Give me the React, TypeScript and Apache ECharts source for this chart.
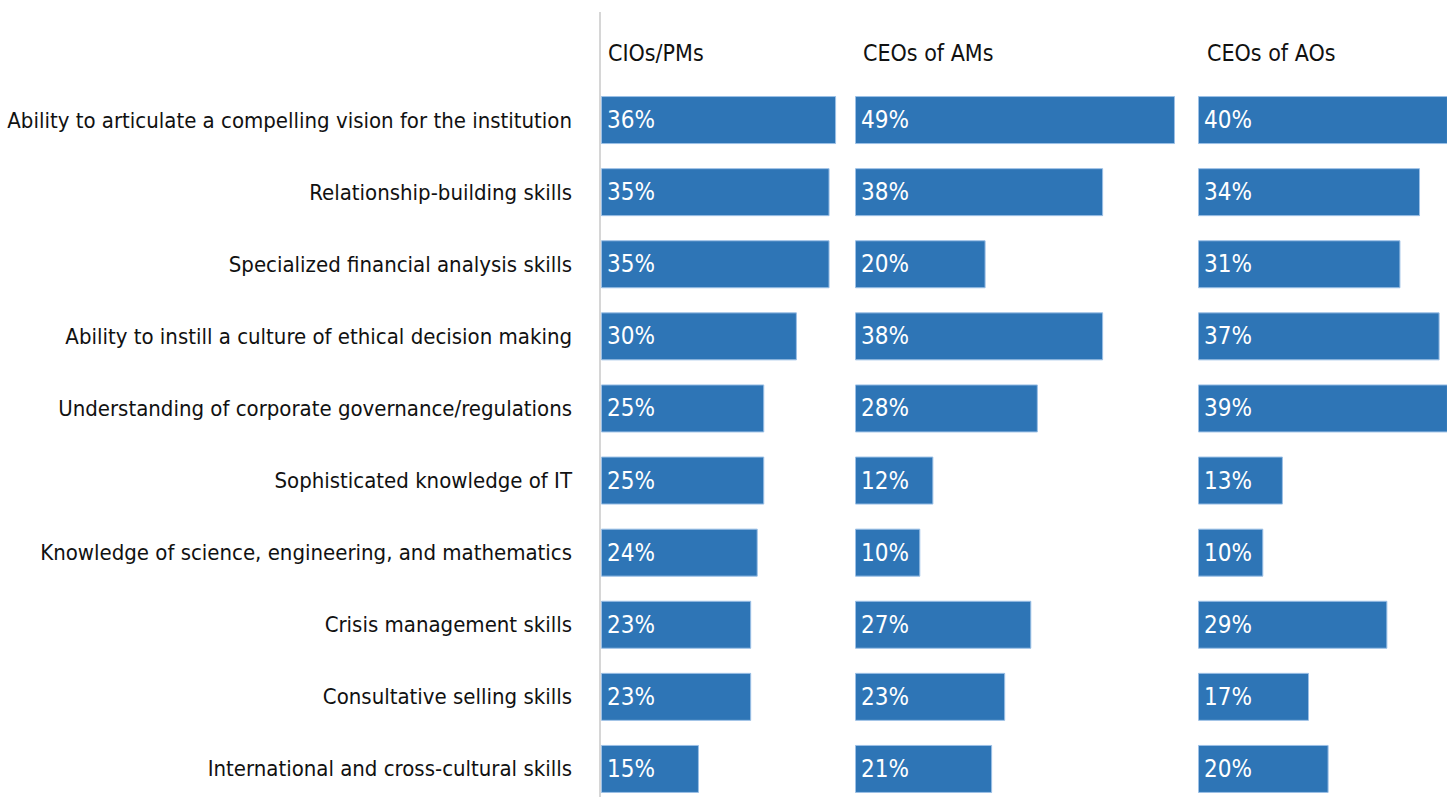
import React, { useEffect, useRef } from "react";
import * as echarts from "echarts";

const categories = [
  "Ability to articulate a compelling vision for the institution",
  "Relationship-building skills",
  "Specialized financial analysis skills",
  "Ability to instill a culture of ethical decision making",
  "Understanding of corporate governance/regulations",
  "Sophisticated knowledge of IT",
  "Knowledge of science, engineering, and mathematics",
  "Crisis management skills",
  "Consultative selling skills",
  "International and cross-cultural skills",
];

const groups = ["CIOs/PMs", "CEOs of AMs", "CEOs of AOs"];

const cioPm = [36, 35, 35, 30, 25, 25, 24, 23, 23, 15];
const ceoAm = [49, 38, 20, 38, 28, 12, 10, 27, 23, 21];
const ceoAo = [40, 34, 31, 37, 39, 13, 10, 29, 17, 20];

const seriesValues = [cioPm, ceoAm, ceoAo];

const FONT = "'Liberation Sans Narrow', 'DejaVu Sans Condensed', 'Noto Sans', sans-serif";
const BAR = "#2E75B6";

export default function App() {
  const ref = useRef<HTMLDivElement>(null);
  useEffect(() => {
    if (!ref.current) return;
    const chart = echarts.init(ref.current, undefined, { renderer: "svg" });
    const scale = 6.53;
    const panels = [
      { left: 601, max: 38 },
      { left: 855, max: 50 },
      { left: 1198, max: 38.2 },
    ];
    const top = 84;
    const height = 721;
    chart.setOption({
      animation: false,
      textStyle: { fontFamily: FONT },
      title: groups.map((g, i) => ({
        text: g,
        left: [603, 858, 1202][i],
        top: 36,
        textStyle: { fontFamily: FONT, fontSize: 23, fontWeight: "normal", color: "#111" },
      })),
      grid: panels.map((p) => ({
        left: p.left,
        top,
        width: p.max * scale,
        height,
        containLabel: false,
        outerBoundsMode: "none",
      })),
      xAxis: panels.map((p, i) => ({
        type: "value",
        gridIndex: i,
        min: 0,
        max: p.max,
        show: false,
        splitLine: { show: false },
      })),
      yAxis: panels.map((p, i) => ({
        type: "category",
        gridIndex: i,
        data: categories,
        inverse: true,
        axisLine: { show: false },
        axisTick: { show: false },
        axisLabel: {
          show: i === 0,
          margin: 29,
          fontSize: 22,
          color: "#111",
          fontFamily: FONT,
        },
      })),
      series: seriesValues.map((vals, i) => ({
        type: "bar",
        name: groups[i],
        xAxisIndex: i,
        yAxisIndex: i,
        data: vals,
        barWidth: 48,
        clip: true,
        itemStyle: { color: BAR, borderColor: "#9cc0e6", borderWidth: 1 },
        label: {
          show: true,
          position: "insideLeft",
          distance: 6,
          color: "#fff",
          fontSize: 24,
          fontFamily: FONT,
          formatter: (p: any) => `${p.value}%`,
        },
      })),
      graphic: [
        {
          type: "line",
          shape: { x1: 600, y1: 12, x2: 600, y2: 797 },
          style: { stroke: "#d6d6d6", lineWidth: 2 },
          silent: true,
        },
      ],
    });
    return () => chart.dispose();
  }, []);
  return (
    <div
      ref={ref}
      style={{ position: "fixed", left: 0, top: 0, width: 1447, height: 797, background: "#fff" }}
    />
  );
}
